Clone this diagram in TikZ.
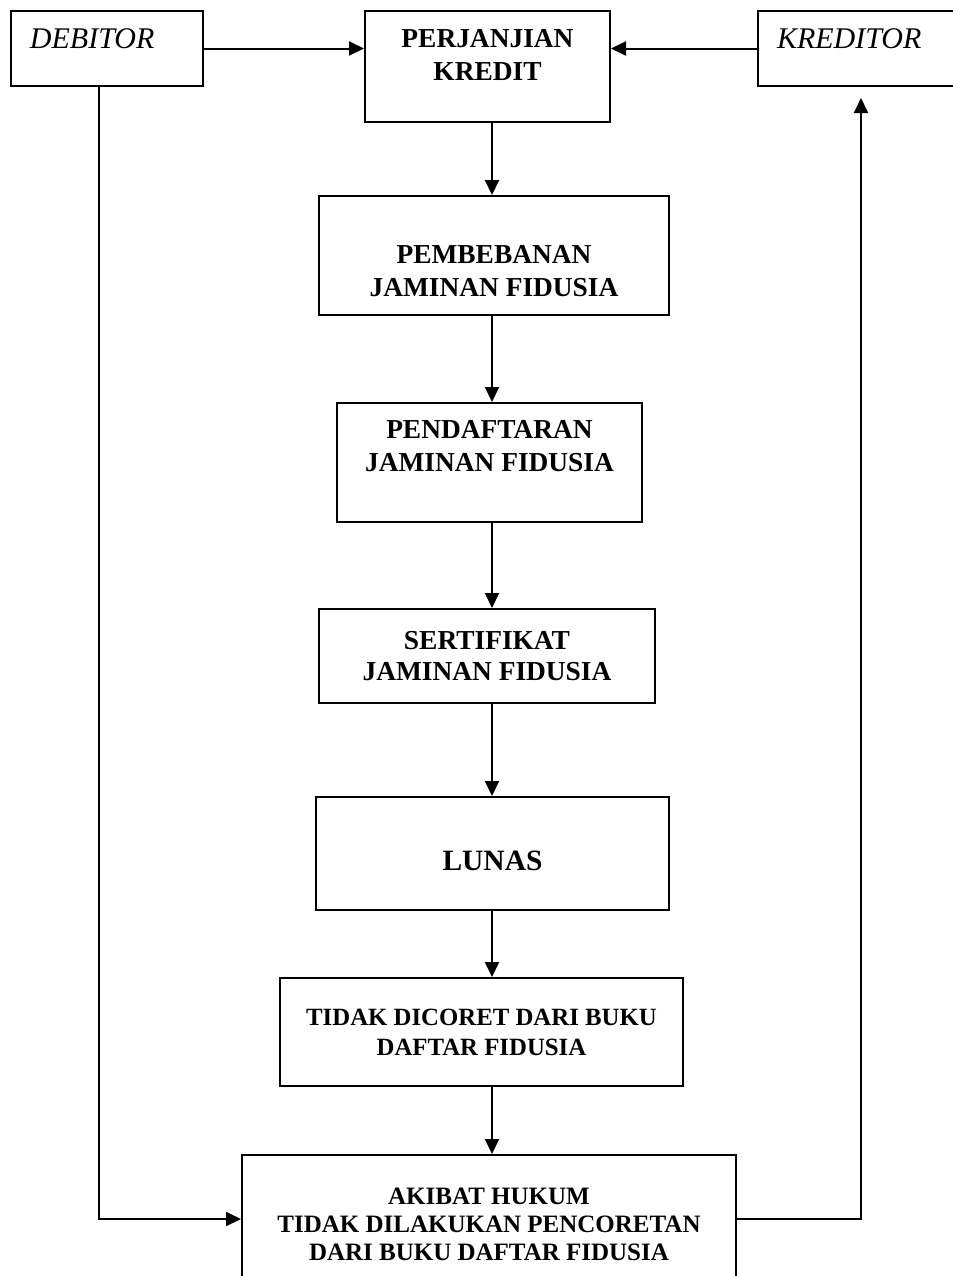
\documentclass[tikz,border=0pt]{standalone}
\usepackage{fontspec}
\setmainfont{Liberation Serif}
\usetikzlibrary{arrows.meta}

\tikzset{
	box/.style={draw, line width=1pt, inner sep=0pt, align=center, font=\bfseries\fontsize{13.7}{16.5}\selectfont},
	party/.style={box, align=left, inner xsep=9.5pt, text height=10pt, text depth=10pt, font=\itshape\fontsize{15}{18}\selectfont},
	small/.style={box, font=\bfseries\fontsize{12.4}{15}\selectfont},
	arrow/.style={line width=1pt, -{Triangle[length=7.5pt,width=7pt]}}
}

\begin{document}
\begin{tikzpicture}[x=0.5pt,y=-0.5pt]

	\useasboundingbox (0,0) rectangle (953,1276);

	\def\spinex{492}

	% parties
	\node[party, minimum width=96pt, minimum height=37.5pt, text width=77pt] (debitor) at (107,48.5) {DEBITOR};
	\node[party, minimum width=100pt, minimum height=37.5pt, text width=81pt] (kreditor) at (858,48.5) {KREDITOR};

	% main column
	\node[box, minimum width=122.5pt, minimum height=55.5pt] (perjanjian) at (487.5,66.5) {PERJANJIAN\\KREDIT\\[-4.5pt]~};
	\node[box, minimum width=175pt, minimum height=59.5pt] (pembebanan) at (494,255.5) {~\\[8pt]PEMBEBANAN\\JAMINAN FIDUSIA};
	\node[box, minimum width=152.5pt, minimum height=59.5pt] (pendaftaran) at (489.5,462.5) {PENDAFTARAN\\JAMINAN FIDUSIA\\~};
	\node[box, minimum width=168pt, minimum height=47pt, font=\bfseries\fontsize{13.7}{15.5}\selectfont] (sertifikat) at (487,656) {SERTIFIKAT\\JAMINAN FIDUSIA};
	\node[box, minimum width=176.5pt, minimum height=56.5pt, text height=17.2pt, text depth=0pt, font=\bfseries\fontsize{14.75}{17.5}\selectfont] (lunas) at (492.5,853.5) {LUNAS};
	\node[small, minimum width=201.5pt, minimum height=54pt] (dicoret) at (481.5,1032) {TIDAK DICORET DARI BUKU\\DAFTAR FIDUSIA};
	\node[small, minimum width=247pt, minimum height=69.5pt, font=\bfseries\fontsize{12.5}{14}\selectfont] (akibat) at (489,1224.5) {AKIBAT HUKUM\\TIDAK DILAKUKAN PENCORETAN\\DARI BUKU DAFTAR FIDUSIA};

	\coordinate (spine) at (\spinex,0);

	\draw[arrow] (debitor.east) -- (debitor.east -| perjanjian.west);
	\draw[arrow] (kreditor.west) -- (kreditor.west -| perjanjian.east);

	\foreach \a/\b in {perjanjian/pembebanan, pembebanan/pendaftaran, pendaftaran/sertifikat, sertifikat/lunas, lunas/dicoret, dicoret/akibat} {
		\draw[arrow] (\a.south -| spine) -- (\b.north -| spine);
	}

	% side loops
	\draw[arrow] ([xshift=-4pt]debitor.south) |- ([yshift=2.75pt]akibat.west);
	\draw[arrow] ([yshift=2.75pt]akibat.east) -| ([xshift=1.5pt,yshift=-5.5pt]kreditor.south);

\end{tikzpicture}
\end{document}
